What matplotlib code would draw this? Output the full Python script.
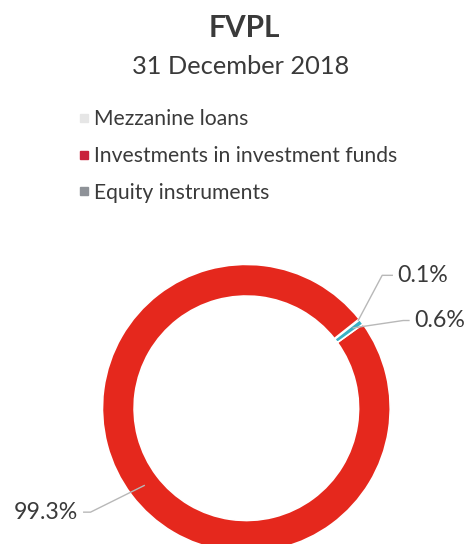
import numpy as np
import matplotlib
matplotlib.use("Agg")
import matplotlib.pyplot as plt
from matplotlib.lines import Line2D

categories = ["Mezzanine loans", "Investments in investment funds", "Equity instruments"]
shares = [0.1, 99.3, 0.6]
labels = ["0.1%", "99.3%", "0.6%"]
legend_colors = ["#e6e6e6", "#c9203a", "#8e9298"]
ring_colors = ["#e6e6e6", "#e5281d", "#3ab0c4"]

TEXT = "#3a3a3a"
LINE = "#b8b8b8"
plt.rcParams["font.family"] = ["Lato", "DejaVu Sans"]

fig = plt.figure(figsize=(4.67, 5.44), dpi=100)

fig.text(0.523, 0.948, "FVPL", ha="center", va="center", fontsize=21.5,
         fontweight="bold", color=TEXT)
fig.text(0.516, 0.877, "31 December 2018", ha="center", va="center",
         fontsize=18.3, color=TEXT)

handles = [Line2D([], [], marker="s", linestyle="none", markersize=6,
                  markerfacecolor=c, markeredgecolor=c) for c in legend_colors]
fig.legend(handles, categories, loc="upper left", bbox_to_anchor=(0.145, 0.819),
           frameon=False, fontsize=15.2, handlelength=0.5, handletextpad=0.25,
           labelspacing=0.8, labelcolor=TEXT, borderpad=0)

# ring, centred at roughly (246, 408) px with radius 144 px
ax = fig.add_axes([0.219, -0.015, 0.617, 0.529])
start = 38.0
wedges, _ = ax.pie(shares, colors=ring_colors, startangle=start, counterclock=True,
                   radius=1.0, wedgeprops=dict(width=0.22, edgecolor="white", linewidth=1.2))
ax.set_xlim(-1, 1)
ax.set_ylim(-1, 1)
ax.set_aspect("equal")
ax.axis("off")


def at(r, deg):
    t = np.deg2rad(deg)
    return r * np.cos(t), r * np.sin(t)


# label placement: (anchor radius, elbow, line end, text position, alignment)
mids = [(w.theta1 + w.theta2) / 2 for w in wedges]
spec = {
    0: (0.99, (0.944, 0.924), (1.014, 0.924), (1.05, 0.924), "left"),
    2: (0.93, (1.09, 0.61), (1.13, 0.61), (1.17, 0.61), "left"),
    1: (0.89, (-1.083, -0.722), (-1.13, -0.722), (-1.17, -0.722), "right"),
}
for i, (r, elbow, end, txt, ha) in spec.items():
    x0, y0 = at(r, mids[i])
    ax.plot([x0, elbow[0], end[0]], [y0, elbow[1], end[1]], color=LINE,
            lw=1.0, clip_on=False)
    ax.text(txt[0], txt[1], labels[i], ha=ha, va="center", fontsize=16.7,
            color=TEXT, clip_on=False)

fig.savefig("out.png", dpi=100)
